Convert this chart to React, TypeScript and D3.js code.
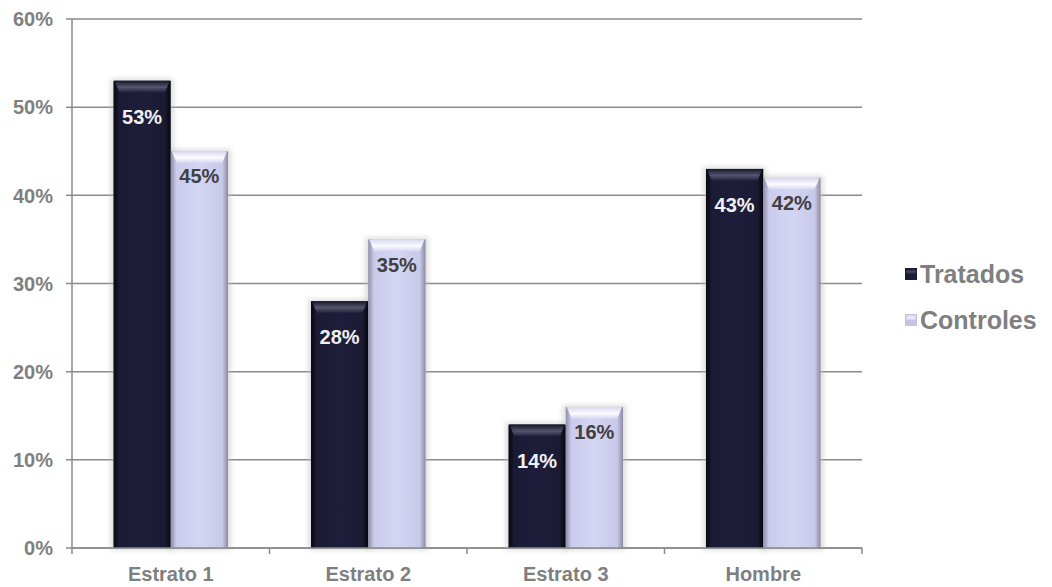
import React from "react";
import * as d3 from "d3";

const categories = ["Estrato 1", "Estrato 2", "Estrato 3", "Hombre"];
const seriesNames = ["Tratados", "Controles"];
const tratados = [53, 28, 14, 43];
const controles = [45, 35, 16, 42];
const yTicks = [0, 10, 20, 30, 40, 50, 60];

const W = 1052;
const H = 587;
const margin = { left: 72, right: 190, top: 19, bottom: 39 };

export default function App() {
  const x0 = d3
    .scaleBand<string>()
    .domain(categories)
    .range([margin.left, W - margin.right])
    .paddingInner(0.42)
    .paddingOuter(0.21);
  const x1 = d3.scaleBand<string>().domain(seriesNames).range([0, x0.bandwidth()]);
  const y = d3.scaleLinear().domain([0, 60]).range([H - margin.bottom, margin.top]);
  const step = (W - margin.right - margin.left) / categories.length;
  const axisColor = "#8a8a8a";
  const textColor = "#7f7f7f";
  const font = "'Liberation Sans', Arial, sans-serif";

  const series = [
    { name: seriesNames[0], values: tratados, fill: "url(#gDark)", top: "url(#gDarkTop)", text: "#f0f0f0", off: 36, swatch: "url(#gDarkTop)" },
    { name: seriesNames[1], values: controles, fill: "url(#gLight)", top: "url(#gLightTop)", text: "#404040", off: 25, swatch: "url(#gLightTop)" },
  ];

  return (
    <svg width={W} height={H} style={{ position: "absolute", left: 0, top: 0, background: "#fff" }}>
      <defs>
        <linearGradient id="gDark" x1="0" x2="1" y1="0" y2="0">
          <stop offset="0" stopColor="#07070f" />
          <stop offset="0.1" stopColor="#1a1a33" />
          <stop offset="0.5" stopColor="#1e1e3b" />
          <stop offset="0.9" stopColor="#1a1a33" />
          <stop offset="1" stopColor="#06060d" />
        </linearGradient>
        <linearGradient id="gDarkTop" x1="0" x2="0" y1="0" y2="1">
          <stop offset="0" stopColor="#16162a" />
          <stop offset="0.55" stopColor="#55556e" />
          <stop offset="1" stopColor="#1e1e3b" />
        </linearGradient>
        <linearGradient id="gLight" x1="0" x2="1" y1="0" y2="0">
          <stop offset="0" stopColor="#8e8ea6" />
          <stop offset="0.1" stopColor="#cbcbec" />
          <stop offset="0.5" stopColor="#d4d4f3" />
          <stop offset="0.9" stopColor="#c8c8e8" />
          <stop offset="1" stopColor="#8a8aa0" />
        </linearGradient>
        <linearGradient id="gLightTop" x1="0" x2="0" y1="0" y2="1">
          <stop offset="0" stopColor="#d8d8f0" />
          <stop offset="0.55" stopColor="#fbfbff" />
          <stop offset="1" stopColor="#d4d4f3" />
        </linearGradient>
        <filter id="shadow" x="-30%" y="-30%" width="160%" height="160%">
          <feGaussianBlur stdDeviation="2.5" />
        </filter>
      </defs>

      {/* gridlines */}
      {yTicks.map((t) => (
        <line key={t} x1={margin.left - 6} x2={W - margin.right} y1={y(t)} y2={y(t)} stroke={axisColor} strokeWidth={1.5} />
      ))}
      {/* y axis */}
      <line x1={margin.left} x2={margin.left} y1={margin.top} y2={y(0)} stroke={axisColor} strokeWidth={1.5} />
      {yTicks.map((t) => (
        <text key={t} x={margin.left - 19} y={y(t)} dy="0.36em" textAnchor="end" fill={textColor}
          fontFamily={font} fontWeight="bold" fontSize={20}>{t}%</text>
      ))}
      {/* x axis ticks */}
      {d3.range(categories.length + 1).map((i) => (
        <line key={i} x1={margin.left + i * step} x2={margin.left + i * step} y1={y(0)} y2={y(0) + 6} stroke={axisColor} strokeWidth={1.5} />
      ))}
      {categories.map((c) => (
        <text key={c} x={(x0(c) as number) + x0.bandwidth() / 2} y={581} textAnchor="middle" fill={textColor}
          fontFamily={font} fontWeight="bold" fontSize={20}>{c}</text>
      ))}

      {/* bar shadows */}
      {categories.map((c, ci) =>
        series.map((s) => {
          const v = s.values[ci];
          const bx = (x0(c) as number) + (x1(s.name) as number);
          return (
            <rect key={c + s.name} x={bx - 3} y={y(v) - 2} width={x1.bandwidth() + 6} height={y(0) - y(v) + 4}
              fill="#bdbdbd" opacity={0.5} filter="url(#shadow)" />
          );
        })
      )}

      {/* bars */}
      {categories.map((c, ci) => (
        <g key={c} transform={`translate(${x0(c)},0)`}>
          {series.map((s) => {
            const v = s.values[ci];
            const bx = x1(s.name) as number;
            const bw = x1.bandwidth();
            const top = y(v);
            const bev = 12;
            return (
              <g key={s.name}>
                <rect x={bx} y={top} width={bw} height={y(0) - top} fill={s.fill} />
                <polygon
                  points={`${bx + 1},${top} ${bx + bw - 1},${top} ${bx + bw - 6},${top + bev} ${bx + 6},${top + bev}`}
                  fill={s.top}
                />
                <text x={bx + bw / 2} y={top + s.off} dy="0.36em" textAnchor="middle" fill={s.text}
                  fontFamily={font} fontWeight="bold" fontSize={20}>{v}%</text>
              </g>
            );
          })}
        </g>
      ))}
      <line x1={margin.left} x2={W - margin.right} y1={y(0)} y2={y(0)} stroke={axisColor} strokeWidth={1.5} />

      {/* legend */}
      {series.map((s, i) => (
        <g key={s.name} transform={`translate(905,${274 + i * 46})`}>
          <rect x={0} y={-6} width={12} height={12} fill={i === 0 ? "#1c1c36" : "#c4c4e2"} />
          <rect x={1.5} y={-5} width={9} height={5} fill={s.swatch} opacity={0.8} />
          <text x={15} y={0} dy="0.36em" fill={textColor} fontFamily={font} fontWeight="bold" fontSize={25}>{s.name}</text>
        </g>
      ))}
    </svg>
  );
}
